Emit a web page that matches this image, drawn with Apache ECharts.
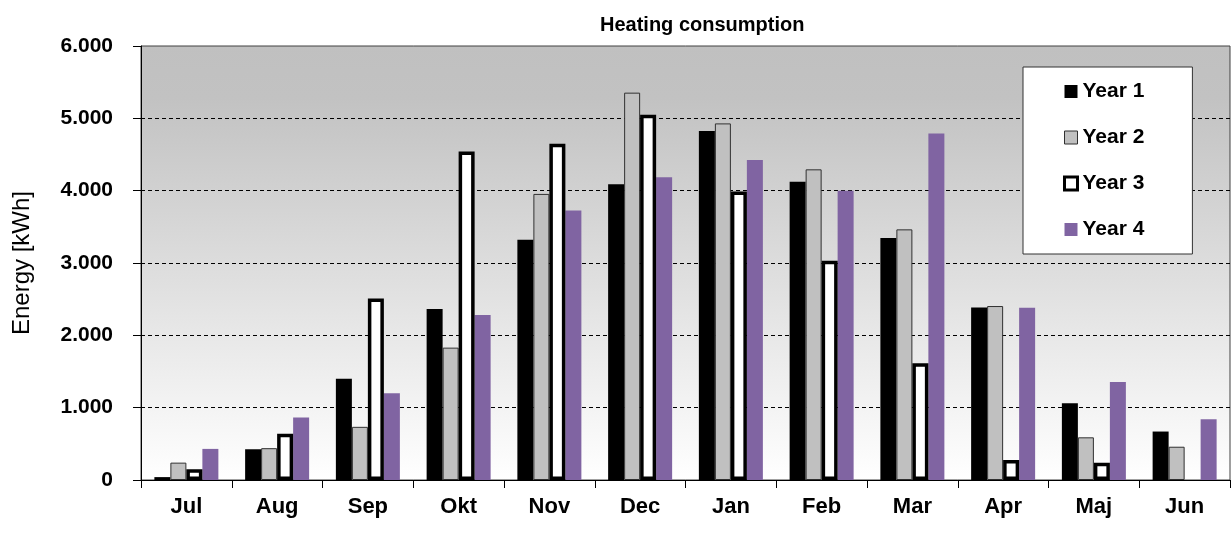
<!DOCTYPE html>
<html>
<head>
<meta charset="utf-8">
<script src="https://cdn.jsdelivr.net/npm/echarts@6/dist/echarts.min.js"></script>
<style>
html,body{margin:0;padding:0;background:#fff;}
#chart{width:1231px;height:540px;}
</style>
</head>
<body>
<div id="chart"></div>
<script>
const categories = ['Jul','Aug','Sep','Okt','Nov','Dec','Jan','Feb','Mar','Apr','Maj','Jun'];
const year1 = [40, 425, 1400, 2365, 3320, 4090, 4825, 4125, 3345, 2385, 1060, 670];
const year2 = [240, 440, 735, 1830, 3955, 5355, 4930, 4295, 3465, 2405, 590, 460];
const year3 = [150, 640, 2510, 4540, 4650, 5050, 3990, 3030, 1615, 275, 240, null];
const year4 = [430, 865, 1200, 2280, 3725, 4185, 4425, 4000, 4790, 2380, 1355, 840];
const seriesNames = ['Year 1', 'Year 2', 'Year 3', 'Year 4'];
const titleText = 'Heating consumption';
const yAxisName = 'Energy [kWh]';

const FONT = "'Liberation Sans', Arial, sans-serif";
const chart = echarts.init(document.getElementById('chart'));

function fmt(v){
  return String(v).replace(/\B(?=(\d{3})+(?!\d))/g, '.');
}

const styles = [
  {color:'#000000', borderWidth:0},
  {color:'#c0c0c0', borderColor:'#303030', borderWidth:1},
  {color:'#ffffff', borderColor:'#000000', borderWidth:3.5},
  {color:'#8064a2', borderWidth:0}
];
const legendStyles = [
  {color:'#000000', borderWidth:0},
  {color:'#c0c0c0', borderColor:'#303030', borderWidth:1},
  {color:'#ffffff', borderColor:'#000000', borderWidth:3},
  {color:'#8064a2', borderWidth:0}
];
const values = [year1, year2, year3, year4];

chart.setOption({
  animation:false,
  backgroundColor:'#ffffff',
  textStyle:{fontFamily:FONT},
  title:{
    text:titleText,
    left:595, top:10,
    textStyle:{fontFamily:FONT, fontSize:20, fontWeight:'bold', color:'#000'}
  },
  grid:{
    left:141, right:1, top:46, bottom:60,
    show:true,
    borderColor:'#404040', borderWidth:1,
    backgroundColor:new echarts.graphic.LinearGradient(0,0,0,1,[
      {offset:0, color:'#c0c0c0'},
      {offset:0.12, color:'#c2c2c2'},
      {offset:1, color:'#ffffff'}
    ])
  },
  legend:{
    orient:'vertical',
    left:1023, top:67,
    padding:[14, 48, 14, 40],
    itemGap:25,
    itemWidth:13, itemHeight:13,
    itemTextGap:7,
    backgroundColor:'#ffffff',
    borderColor:'#333333', borderWidth:1,
    icon:'rect',
    textStyle:{fontFamily:FONT, fontSize:21, fontWeight:'bold', color:'#000'},
    data:seriesNames.map((n,i)=>({name:n, itemStyle:legendStyles[i]}))
  },
  xAxis:{
    type:'category',
    data:categories,
    axisLine:{show:true, lineStyle:{color:'#000', width:1}},
    axisTick:{show:true, length:8, lineStyle:{color:'#000'}},
    axisLabel:{fontFamily:FONT, fontSize:22, fontWeight:'bold', color:'#000', margin:16},
    splitLine:{show:false}
  },
  yAxis:{
    type:'value',
    min:0, max:6000, interval:1000,
    name:yAxisName,
    nameLocation:'middle',
    nameGap:107,
    nameRotate:90,
    nameTextStyle:{fontFamily:FONT, fontSize:24, color:'#000'},
    axisLine:{show:true, lineStyle:{color:'#000', width:1}},
    axisTick:{show:true, length:8, lineStyle:{color:'#000'}},
    axisLabel:{fontFamily:FONT, fontSize:21, fontWeight:'bold', color:'#000', margin:28, formatter:fmt},
    splitLine:{show:true, showMinLine:false, showMaxLine:false, lineStyle:{color:'#000', type:[4,3], width:1}}
  },
  series:seriesNames.map((n,i)=>({
    name:n,
    type:'bar',
    data:values[i],
    barWidth:16,
    barGap:'0%',
    z: i===2 ? 4 : 2,
    itemStyle:styles[i]
  }))
});
</script>
</body>
</html>
